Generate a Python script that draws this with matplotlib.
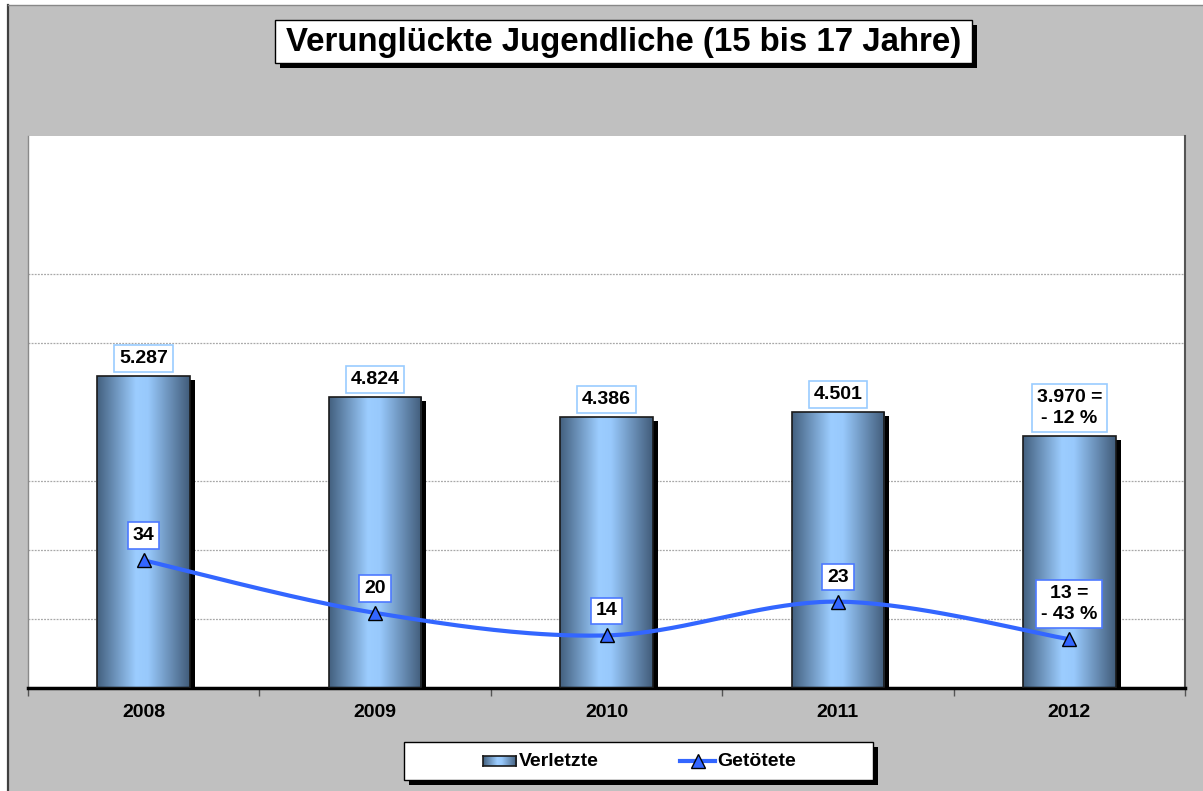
import numpy as np
import matplotlib
matplotlib.use('Agg')
import matplotlib.pyplot as plt
from matplotlib.patches import Rectangle
from matplotlib.lines import Line2D
from matplotlib.colors import LinearSegmentedColormap
import matplotlib.transforms as mtransforms
from matplotlib import font_manager

# ---------------- data ----------------
years = ['2008', '2009', '2010', '2011', '2012']
verletzte = [5287, 4824, 4386, 4501, 3970]
getoetete = [34, 20, 14, 23, 13]
bar_labels = ['5.287', '4.824', '4.386', '4.501', '3.970 =\n- 12 %']
line_labels = ['34', '20', '14', '23', '13 =\n- 43 %']
title = 'Verunglückte Jugendliche (15 bis 17 Jahre)'
legend_labels = ['Verletzte', 'Getötete']
grid_values = [0, 1500, 3000, 6000, 7500]

plt.rcParams['font.family'] = ['Liberation Sans', 'DejaVu Sans']
plt.rcParams['font.weight'] = 'bold'

W, H = 1203, 791
fig = plt.figure(figsize=(W / 100, H / 100), dpi=100)
fig.patch.set_facecolor('white')


def fx(px):
    return px / W


def fy(py):
    return 1 - py / H


# chart area background + border
fig.add_artist(Rectangle((fx(8), 0), 1 - fx(8), fy(5), transform=fig.transFigure,
                         facecolor='#c0c0c0', edgecolor='none', zorder=0))
fig.add_artist(Line2D([fx(8), fx(8)], [0, fy(5)], color='#404040', lw=1.6, zorder=0.5))
fig.add_artist(Line2D([fx(8), 1], [fy(5), fy(5)], color='#888888', lw=1, zorder=0.5))

# ---------------- main axes ----------------
ax = fig.add_axes([fx(28), fy(688), fx(1185) - fx(28), (688 - 136) / H])
ax.set_facecolor('white')
x = np.arange(len(years))
base = -1500
bw = 0.40

cmap = LinearSegmentedColormap.from_list(
    'cyl', [(0, '#43607f'), (0.42, '#9ccdff'), (0.55, '#98c9fc'), (1, '#415c7a')])
grad = np.linspace(0, 1, 256).reshape(1, -1)

shadow_tr = mtransforms.offset_copy(ax.transData, fig=fig, x=5, y=-4, units='dots')
bars = ax.bar(x, np.array(verletzte) - base, bottom=base, width=bw,
              facecolor='none', edgecolor='#1a1a1a', lw=1.2, zorder=3)
for b in bars:
    x0, y0 = b.get_xy()
    sh = Rectangle((x0, y0), b.get_width(), b.get_height(), transform=shadow_tr,
                   facecolor='black', edgecolor='none', zorder=2)
    ax.add_patch(sh)
    im = ax.imshow(grad, cmap=cmap, extent=[x0, x0 + b.get_width(), y0, y0 + b.get_height()],
                   aspect='auto', zorder=2.5, interpolation='bilinear')
    im.set_clip_path(b)

ax.set_xlim(-0.5, 4.5)
ax.set_ylim(-1500, 10500)
ax.hlines(grid_values, -0.5, 4.5, colors='#a8a8a8', lw=0.9, linestyles=(0, (1.5, 1)), zorder=1)

for xi, v, lab in zip(x, verletzte, bar_labels):
    ax.annotate(lab, (xi, v), xytext=(0, 9), textcoords='offset pixels',
                ha='center', va='bottom', fontsize=14, fontweight='bold', linespacing=1.35,
                bbox=dict(boxstyle='square,pad=0.25', fc='white', ec='#99ccff', lw=1.2),
                zorder=6)

ax.set_xticks(np.arange(-0.5, 5, 1))
ax.set_xticklabels([])
ax.set_xticks(x, minor=True)
ax.set_xticklabels(years, minor=True, fontsize=14, fontweight='bold')
ax.tick_params(which='major', axis='x', direction='out', length=6, width=1, color='#555555')
ax.tick_params(which='minor', axis='x', length=0, pad=11.8)
ax.set_yticks([])
ax.spines['top'].set_visible(False)
ax.spines['left'].set_color('#8a8a8a')
ax.spines['left'].set_linewidth(1)
ax.spines['right'].set_color('#555555')
ax.spines['right'].set_linewidth(1.5)
ax.spines['bottom'].set_color('black')
ax.spines['bottom'].set_linewidth(2.5)

# ---------------- secondary axes (line) ----------------
ax2 = ax.twinx()
ax2.set_ylim(0, 147)
ax2.set_yticks([])
for s in ax2.spines.values():
    s.set_visible(False)
ax2.patch.set_visible(False)


def catmull_rom(xs, ys, n=40):
    P = np.column_stack([xs, ys]).astype(float)
    P = np.vstack([P[0], P, P[-1]])
    out = []
    t = np.linspace(0, 1, n)[:, None]
    for i in range(1, len(P) - 2):
        p0, p1, p2, p3 = P[i - 1], P[i], P[i + 1], P[i + 2]
        c1 = p1 + (p2 - p0) / 6
        c2 = p2 - (p3 - p1) / 6
        seg = (1 - t) ** 3 * p1 + 3 * (1 - t) ** 2 * t * c1 + 3 * (1 - t) * t ** 2 * c2 + t ** 3 * p2
        out.append(seg if i == 1 else seg[1:])
    return np.vstack(out)


curve = catmull_rom(x, getoetete)
line_color = '#3366ff'
ax2.plot(curve[:, 0], curve[:, 1], color=line_color, lw=3, zorder=3, solid_capstyle='round')
ax2.plot(x, getoetete, ls='none', marker='^', ms=10, mfc=line_color, mec='black', mew=1, zorder=4)

for xi, v, lab in zip(x, getoetete, line_labels):
    ax2.annotate(lab, (xi, v), xytext=(0, 16), textcoords='offset pixels',
                 ha='center', va='bottom', fontsize=14, fontweight='bold', linespacing=1.35,
                 bbox=dict(boxstyle='square,pad=0.25', fc='white', ec='#4d79ff', lw=1.2),
                 zorder=6)

# ---------------- title box ----------------
fig.add_artist(Rectangle((fx(280), fy(68)), fx(977) - fx(280), (68 - 25) / H,
                         transform=fig.transFigure, fc='black', ec='none', zorder=5))
fig.add_artist(Rectangle((fx(275), fy(63)), fx(972) - fx(275), (63 - 20) / H,
                         transform=fig.transFigure, fc='white', ec='black', lw=1, zorder=6))
title_family = ['Liberation Sans', 'DejaVu Sans']
try:
    font_manager.findfont(font_manager.FontProperties(family='Liberation Sans Narrow', weight='bold'),
                          fallback_to_default=False)
    title_family = ['Liberation Sans Narrow', 'Liberation Sans', 'DejaVu Sans']
except Exception:
    pass
tt = fig.text(fx(623.5), fy(42), title, ha='center', va='center', fontsize=24,
              fontweight='bold', family=title_family, zorder=7)
fig.canvas.draw()
wpx = tt.get_window_extent().width
tt.set_fontsize(24 * 678 / wpx)

# ---------------- legend ----------------
fig.add_artist(Rectangle((fx(409), fy(785)), fx(878) - fx(409), (785 - 747) / H,
                         transform=fig.transFigure, fc='black', ec='none', zorder=5))
fig.add_artist(Rectangle((fx(404), fy(780)), fx(873) - fx(404), (780 - 742) / H,
                         transform=fig.transFigure, fc='white', ec='black', lw=1, zorder=6))
iax = fig.add_axes([fx(483), fy(766), fx(516) - fx(483), 10 / H], zorder=7)
iax.imshow(grad, cmap=cmap, aspect='auto', extent=[0, 1, 0, 1], interpolation='bilinear')
iax.set_xticks([])
iax.set_yticks([])
for s in iax.spines.values():
    s.set_color('#1a1a1a')
    s.set_linewidth(1.2)
fig.text(fx(519), fy(761), legend_labels[0], ha='left', va='center', fontsize=14,
         fontweight='bold', zorder=8)
fig.add_artist(Line2D([fx(680), fx(715)], [fy(761), fy(761)], color=line_color, lw=3, zorder=8))
fig.add_artist(Line2D([fx(697.5)], [fy(761)], ls='none', marker='^', ms=10, mfc=line_color,
                      mec='black', mew=1, zorder=9))
fig.text(fx(717), fy(761), legend_labels[1], ha='left', va='center', fontsize=14,
         fontweight='bold', zorder=8)

fig.savefig('out.png', dpi=100, facecolor=fig.get_facecolor())
